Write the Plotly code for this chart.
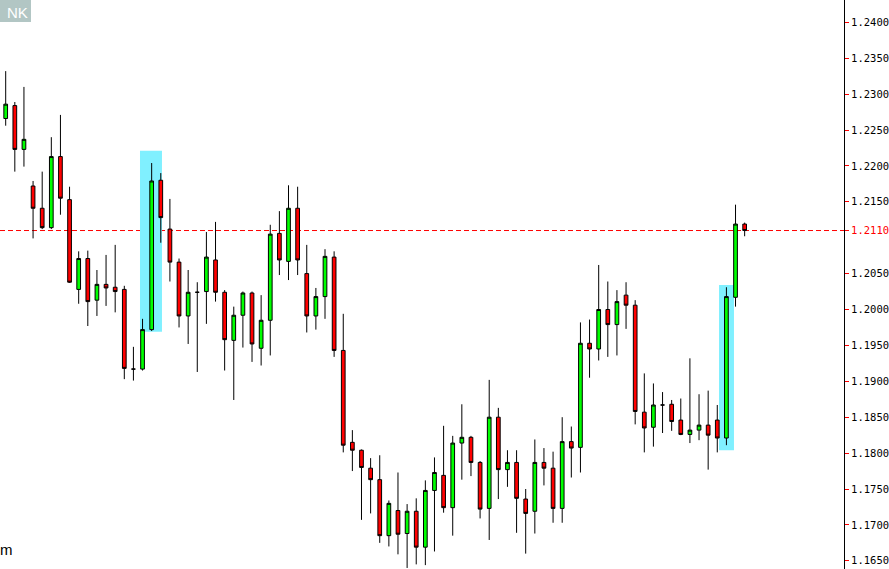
import plotly.graph_objects as go

# ---- data ----
opens = [1.2266, 1.2284, 1.2223, 1.2172, 1.2141, 1.2114, 1.2213, 1.2153, 1.2028, 1.2071,
         1.2013, 1.2035, 1.2031, 1.2028, 1.1917, 1.1917, 1.1972, 1.2180, 1.2112, 1.2066,
         1.1991, 1.2024, 1.2025, 1.2069, 1.2024, 1.1957, 1.1992, 1.2023, 1.1946, 1.1985,
         1.2106, 1.2067, 1.2141, 1.2050, 1.1991, 1.2018, 1.2073, 1.1943, 1.1815, 1.1804,
         1.1779, 1.1763, 1.1685, 1.1720, 1.1688, 1.1719, 1.1669, 1.1748, 1.1769, 1.1724,
         1.1814, 1.1822, 1.1787, 1.1723, 1.1850, 1.1777, 1.1787, 1.1736, 1.1719, 1.1787,
         1.1779, 1.1723, 1.1816, 1.1808, 1.1953, 1.1945, 1.2000, 1.1979, 1.2020, 1.2006,
         1.1857, 1.1836, 1.1867, 1.1868, 1.1846, 1.1826, 1.1832, 1.1839, 1.1846, 1.1821,
         1.2017, 1.2119]
highs = [1.2332, 1.2289, 1.2310, 1.2179, 1.2192, 1.2240, 1.2271, 1.2171, 1.2081, 1.2082,
         1.2055, 1.2076, 1.2090, 1.2033, 1.1948, 1.1987, 1.2204, 1.2190, 1.2154, 1.2071,
         1.2055, 1.2038, 1.2108, 1.2122, 1.2027, 1.2004, 1.2025, 1.2025, 1.2020, 1.2118,
         1.2137, 1.2173, 1.2171, 1.2090, 1.2030, 1.2084, 1.2081, 1.1994, 1.1832, 1.1805,
         1.1793, 1.1797, 1.1734, 1.1773, 1.1729, 1.1737, 1.1762, 1.1794, 1.1838, 1.1824,
         1.1868, 1.1824, 1.1789, 1.1902, 1.1863, 1.1804, 1.1804, 1.1750, 1.1819, 1.1807,
         1.1802, 1.1850, 1.1837, 1.1982, 1.1986, 1.2062, 1.2039, 1.2027, 1.2038, 1.2013,
         1.1911, 1.1897, 1.1885, 1.1874, 1.1876, 1.1932, 1.1882, 1.1887, 1.1867, 1.2031,
         1.2146, 1.2121]
lows = [1.2256, 1.2192, 1.2199, 1.2099, 1.2112, 1.2112, 1.2132, 1.2037, 1.2008, 1.1977,
        1.1991, 1.2005, 1.1996, 1.1903, 1.1901, 1.1915, 1.1970, 1.2093, 1.2039, 1.1975,
        1.1952, 1.1913, 1.1980, 1.2011, 1.1915, 1.1874, 1.1947, 1.1927, 1.1922, 1.1936,
        1.2048, 1.2041, 1.2048, 1.1968, 1.1972, 1.1987, 1.1934, 1.1801, 1.1775, 1.1707,
        1.1716, 1.1675, 1.1670, 1.1659, 1.1640, 1.1645, 1.1644, 1.1663, 1.1717, 1.1685,
        1.1763, 1.1768, 1.1709, 1.1679, 1.1736, 1.1753, 1.1689, 1.1660, 1.1688, 1.1755,
        1.1703, 1.1703, 1.1766, 1.1773, 1.1905, 1.1929, 1.1934, 1.1936, 1.1973, 1.1840,
        1.1801, 1.1809, 1.1828, 1.1831, 1.1825, 1.1814, 1.1818, 1.1777, 1.1801, 1.1811,
        1.2004, 1.2102]
closes = [1.2286, 1.2223, 1.2237, 1.2141, 1.2114, 1.2213, 1.2155, 1.2038, 1.2071, 1.2011,
          1.2035, 1.2030, 1.2025, 1.1918, 1.1917, 1.1972, 1.2179, 1.2128, 1.2066, 1.1991,
          1.2024, 1.2024, 1.2073, 1.2024, 1.1958, 1.1992, 1.2023, 1.1952, 1.1985, 1.2105,
          1.2069, 1.2141, 1.2069, 1.1991, 1.2018, 1.2074, 1.1943, 1.1811, 1.1804, 1.1780,
          1.1763, 1.1685, 1.1730, 1.1687, 1.1719, 1.1669, 1.1748, 1.1773, 1.1724, 1.1814,
          1.1822, 1.1787, 1.1722, 1.1850, 1.1777, 1.1787, 1.1737, 1.1716, 1.1787, 1.1779,
          1.1723, 1.1816, 1.1807, 1.1953, 1.1945, 1.2000, 1.1979, 1.2011, 1.2006, 1.1858,
          1.1835, 1.1867, 1.1867, 1.1844, 1.1826, 1.1832, 1.1839, 1.1825, 1.1821, 1.2018,
          1.2119, 1.2110]
bar_index = list(range(len(opens)))

bid_price = 1.2110
tick_values = [1.2400, 1.2350, 1.2300, 1.2250, 1.2200, 1.2150, 1.2110, 1.2050, 1.2000,
               1.1950, 1.1900, 1.1850, 1.1800, 1.1750, 1.1700, 1.1650]
tick_labels = ["1.2400", "1.2350", "1.2300", "1.2250", "1.2200", "1.2150",
               "<span style='color:#FF0000'>1.2110</span>", "1.2050", "1.2000",
               "1.1950", "1.1900", "1.1850", "1.1800", "1.1750", "1.1700", "1.1650"]

# highlight boxes: (bar-from, bar-to, price-low, price-high)
highlights = [(14.72, 17.13, 1.1969, 1.2221),
              (78.19, 79.83, 1.1804, 1.2034)]

fig = go.Figure()
fig.add_trace(go.Candlestick(
    x=bar_index, open=opens, high=highs, low=lows, close=closes,
    increasing=dict(line=dict(color="#000000", width=1), fillcolor="#00FF00"),
    decreasing=dict(line=dict(color="#000000", width=1), fillcolor="#FF0000"),
    whiskerwidth=0, hoverinfo="skip", showlegend=False,
))

for x0, x1, y0, y1 in highlights:
    fig.add_shape(type="rect", xref="x", yref="y", x0=x0, x1=x1, y0=y0, y1=y1,
                  fillcolor="#80F0FF", line=dict(width=0), layer="below")

fig.add_shape(type="line", xref="paper", yref="y", x0=0, x1=1, y0=bid_price, y1=bid_price,
              line=dict(color="#FF0000", width=1, dash="5px,3px"), layer="below")

# top-left label box and bottom-left text
fig.add_shape(type="rect", xref="paper", yref="paper", x0=0, x1=31 / 844, y0=1 - 22 / 569, y1=1,
              fillcolor="#B2C6C4", line=dict(width=0))
fig.add_annotation(xref="paper", yref="paper", x=17 / 844, y=1 - 13 / 569, text="NK",
                   showarrow=False, font=dict(family="Liberation Sans", size=15, color="#FFFFFF"),
                   xanchor="center", yanchor="middle")
fig.add_annotation(xref="paper", yref="paper", x=0, y=1 - 549 / 569, text="m",
                   showarrow=False, font=dict(family="Liberation Sans", size=15, color="#000000"),
                   xanchor="left", yanchor="middle", xshift=-2)

fig.update_layout(
    width=889, height=569,
    margin=dict(l=0, r=45, t=0, b=0, pad=0),
    paper_bgcolor="#FFFFFF", plot_bgcolor="#FFFFFF",
    boxgap=0.42,
    showlegend=False,
    xaxis=dict(range=[-0.625, 91.89], visible=False, rangeslider=dict(visible=False),
               fixedrange=True),
    yaxis=dict(range=[1.163858, 1.243106], side="right", showgrid=False, zeroline=False,
               showline=True, linecolor="#000000", linewidth=1, mirror=False,
               ticks="outside", ticklen=4, tickwidth=1, tickcolor="#FF0000",
               tickvals=tick_values, ticktext=tick_labels,
               tickfont=dict(family="DejaVu Sans Mono", size=10.5, color="#000000"),
               fixedrange=True),
)

fig.write_html("out.html", config={"displayModeBar": False, "staticPlot": True},
               post_script="document.body.style.margin='0';document.body.style.overflow='hidden';")
